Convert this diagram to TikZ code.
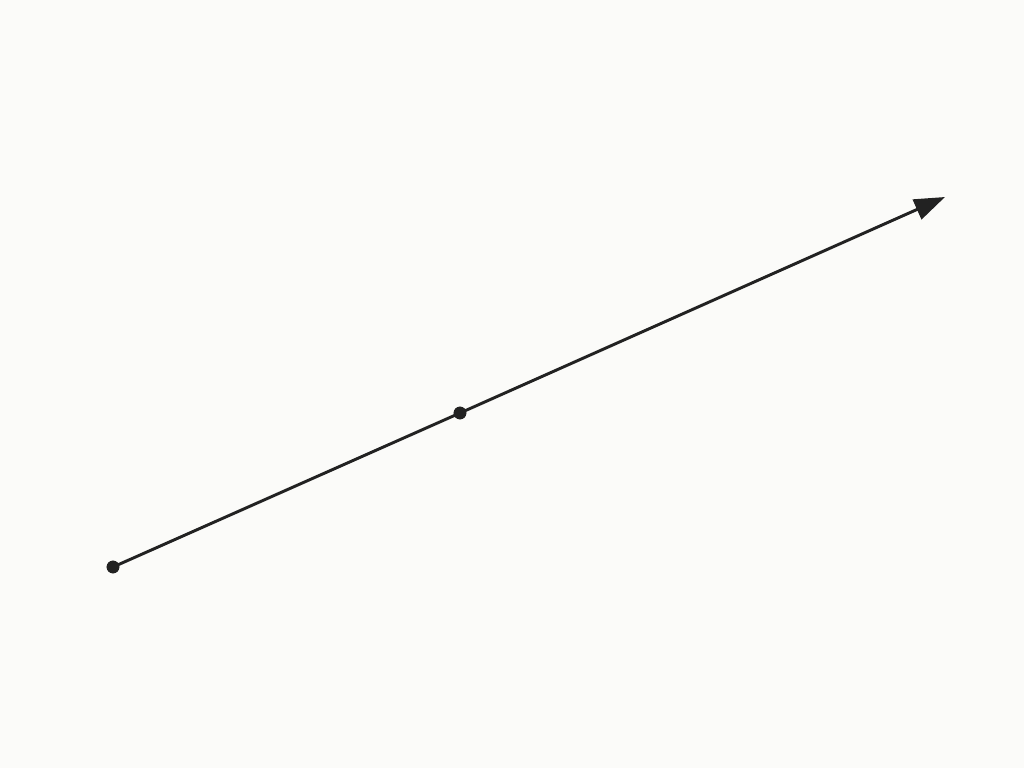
\documentclass[tikz,border=0pt]{standalone}
\usetikzlibrary{arrows.meta}
\definecolor{ink}{HTML}{222222}
\definecolor{paper}{HTML}{FBFBF9}
\tikzset{
  pt/.style={circle,fill=ink,inner sep=0pt,minimum size=9.5pt},
  ray/.style={draw=ink,line width=2.2pt,-{Triangle[length=23pt,width=16pt]}},
  seg/.style={draw=ink,line width=2.2pt}
}
\begin{document}
\begin{tikzpicture}[x=0.75pt,y=-0.75pt]
\fill[paper] (0,0) rectangle (1024,768);
\useasboundingbox (0,0) rectangle (1024,768);
\node[pt] (A) at (113,567) {};
\node[pt] (B) at (460,413) {};
\coordinate (C) at (945,197);
\draw[seg] (A.center) -- (B.center);
\draw[ray] (B.center) -- (C);
\node[pt] at (A) {};
\node[pt] at (B) {};
\end{tikzpicture}
\end{document}
